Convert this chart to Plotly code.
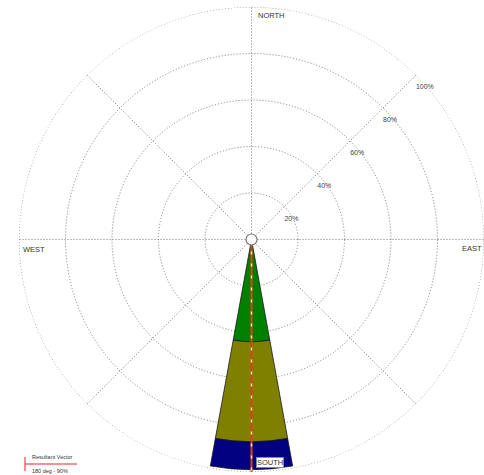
import plotly.graph_objects as go

# ---- data ----
directions = [180, 180, 180]            # degrees (South)
speed_bins = ["bin1", "bin2", "bin3"]
frequencies = [44, 43, 12]              # percent, stacked
bin_colors = ["#008000", "#808000", "#000080"]
sector_width = 20.6
ring_ticks = [20, 40, 60, 80, 100]
ring_labels = ["20%", "40%", "60%", "80%", "100%"]
label_angle = 45
resultant_dir = 180
resultant_pct = 90
compass_labels = ["NORTH", "EAST", "SOUTH", "WEST"]

W, H = 484, 475
ML, MR, MT, MB = 19, 0, 7, 3
PW = W - ML - MR
PH = H - MT - MB


def px(x):
    return (x - ML) / PW


def py(y):
    return (H - MB - y) / PH


GRID = "#7a7a7a"
grid_dash = "1px,2px"
rmax = ring_ticks[-1]

fig = go.Figure()

# outer ring (dotted, like the other rings)
circle_theta = list(range(0, 361, 2))
fig.add_trace(go.Scatterpolar(
    r=[rmax] * len(circle_theta), theta=circle_theta, mode="lines",
    line=dict(color=GRID, width=1, dash=grid_dash), showlegend=False, hoverinfo="skip",
))

for d, f, c, name in zip(directions, frequencies, bin_colors, speed_bins):
    fig.add_trace(go.Barpolar(
        r=[f], theta=[d], width=[sector_width], name=name,
        marker=dict(color=c, line=dict(color="#1a1a1a", width=0.8)),
        showlegend=False,
    ))

# ring labels (placed just below-right of each ring on the NE spoke)
fig.add_trace(go.Scatterpolar(
    r=ring_ticks, theta=[label_angle] * len(ring_ticks), mode="text",
    text=["<br>" + t for t in ring_labels], textposition="bottom right",
    textfont=dict(size=7, color="#444444", family="Liberation Sans, Arial"),
    showlegend=False, hoverinfo="skip",
))

# resultant vector: red line with pale dashes
fig.add_trace(go.Scatterpolar(
    r=[0, rmax], theta=[resultant_dir, resultant_dir], mode="lines",
    line=dict(color="#e0401a", width=2), showlegend=False,
))
fig.add_trace(go.Scatterpolar(
    r=[0, rmax], theta=[resultant_dir, resultant_dir], mode="lines",
    line=dict(color="#f4e9a8", width=1.5, dash="3px,9px"), showlegend=False,
))
# centre circle
fig.add_trace(go.Scatterpolar(
    r=[0], theta=[0], mode="markers",
    marker=dict(size=11, color="white", line=dict(color="#777777", width=1.2)),
    showlegend=False,
))

fig.update_layout(
    width=W, height=H,
    margin=dict(l=ML, r=MR, t=MT, b=MB),
    paper_bgcolor="white",
    plot_bgcolor="white",
    showlegend=False,
    polar=dict(
        bgcolor="white",
        domain=dict(x=[0, 1], y=[0, 1]),
        angularaxis=dict(
            rotation=90, direction="clockwise", dtick=45,
            showticklabels=False, ticks="", showline=False,
            showgrid=True, gridcolor=GRID, gridwidth=1, griddash=grid_dash,
        ),
        radialaxis=dict(
            range=[0, rmax], tickvals=ring_ticks, showticklabels=False,
            showline=False, ticks="",
            showgrid=True, gridcolor=GRID, gridwidth=1, griddash=grid_dash,
        ),
    ),
)

lab_font = dict(size=7.5, color="#333333", family="Liberation Sans, Arial")
ann = [
    dict(text=compass_labels[0], x=px(256), y=py(15), xanchor="left", yanchor="middle"),
    dict(text=compass_labels[1], x=px(484), y=py(248), xanchor="right", yanchor="middle"),
    dict(text=compass_labels[2], x=px(256), y=py(462), xanchor="left", yanchor="middle",
         bgcolor="white", bordercolor="#888888", borderwidth=1, borderpad=0),
    dict(text=compass_labels[3], x=px(21), y=py(249), xanchor="left", yanchor="middle"),
    dict(text="Resultant Vector", x=px(30), y=py(457), xanchor="left", yanchor="middle",
         font=dict(size=5.5, color="#333333", family="Liberation Sans, Arial")),
    dict(text=f"{resultant_dir} deg - {resultant_pct}%", x=px(30), y=py(471),
         xanchor="left", yanchor="middle",
         font=dict(size=5.5, color="#333333", family="Liberation Sans, Arial")),
]
for a in ann:
    a.setdefault("font", lab_font)
    a.update(xref="paper", yref="paper", showarrow=False)
fig.update_layout(annotations=ann)

fig.update_layout(shapes=[
    dict(type="line", xref="paper", yref="paper", x0=px(25), x1=px(77), y0=py(464), y1=py(464),
         line=dict(color="#e02020", width=1.2)),
    dict(type="line", xref="paper", yref="paper", x0=px(25), x1=px(77), y0=py(464), y1=py(464),
         line=dict(color="#f5a0a0", width=1.2, dash="4px,5px")),
    dict(type="line", xref="paper", yref="paper", x0=px(25), x1=px(25), y0=py(457), y1=py(471),
         line=dict(color="#e02020", width=1)),
])

fig.write_html("out.html")
